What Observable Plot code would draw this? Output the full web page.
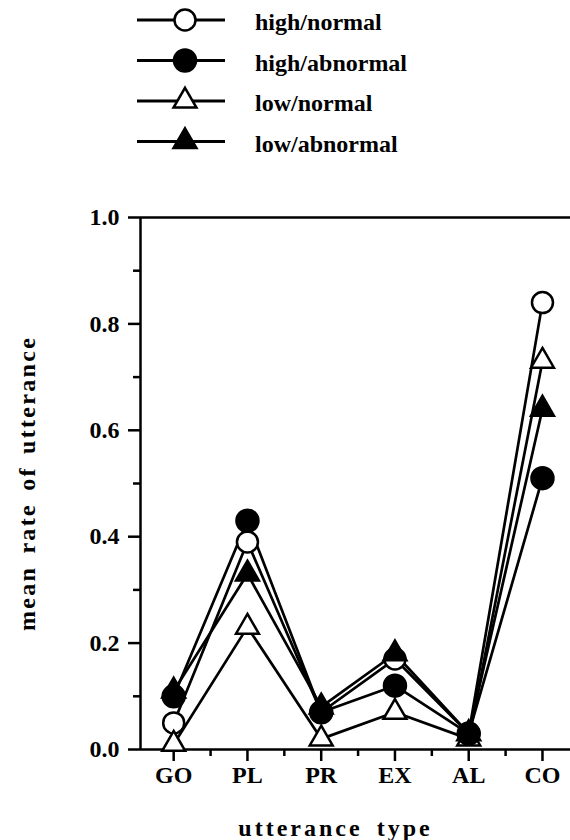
<!DOCTYPE html>
<html>
<head>
<meta charset="utf-8">
<script src="https://cdn.jsdelivr.net/npm/d3@7"></script>
<script src="https://cdn.jsdelivr.net/npm/@observablehq/plot@0.6"></script>
<style>
  html, body { margin: 0; padding: 0; background: white; }
  #legend, #chart { display: block; }
</style>
</head>
<body>
<div id="legend"></div>
<div id="chart"></div>
<script>
const categories = ["GO", "PL", "PR", "EX", "AL", "CO"];
const seriesNames = ["high/normal", "high/abnormal", "low/normal", "low/abnormal"];
const highNormal   = [0.05, 0.39, 0.07, 0.17, 0.03, 0.84];
const highAbnormal = [0.10, 0.43, 0.07, 0.12, 0.03, 0.51];
const lowNormal    = [0.01, 0.23, 0.02, 0.07, 0.02, 0.73];
const lowAbnormal  = [0.11, 0.33, 0.08, 0.18, 0.03, 0.64];
const yTicks = [0, 0.2, 0.4, 0.6, 0.8, 1.0];
const yMinorTicks = [0.1, 0.3, 0.5, 0.7, 0.9];
const xTicks = [1, 2, 3, 4, 5, 6];
const xMinorTicks = [1.5, 2.5, 3.5, 4.5, 5.5];
const xLabel = "utterance type";
const yLabel = "mean rate of utterance";

const seriesValues = [highNormal, highAbnormal, lowNormal, lowAbnormal];
const seriesStyle = [
  {symbol: "circle", fill: "white", r: 10.5},
  {symbol: "circle", fill: "black", r: 11},
  {symbol: "triangle", fill: "white", r: 8.5},
  {symbol: "triangle", fill: "black", r: 8.5}
];

const data = [];
seriesNames.forEach((s, si) => {
  seriesValues[si].forEach((v, i) => {
    data.push({series: s, cat: categories[i], idx: i + 1, value: v});
  });
});

const FONT = "'Liberation Serif', 'Times New Roman', serif";

// Legend
const lg = d3.select("#legend").append("svg")
  .attr("width", 570).attr("height", 190)
  .style("font-family", FONT).style("font-weight", "bold").style("font-size", "24px");
seriesNames.forEach((s, i) => {
  const y = 20 + i * 40.5;
  const st = seriesStyle[i];
  lg.append("line").attr("x1", 137).attr("x2", 225).attr("y1", y).attr("y2", y)
    .attr("stroke", "black").attr("stroke-width", 3);
  const sym = st.symbol === "circle" ? d3.symbolCircle : d3.symbolTriangle;
  lg.append("path")
    .attr("d", d3.symbol(sym, Math.PI * st.r * st.r)())
    .attr("transform", `translate(185,${y})`)
    .attr("fill", st.fill).attr("stroke", "black").attr("stroke-width", 2.5);
  lg.append("text").attr("x", 255).attr("y", y + 10).text(s);
});

// Chart
const dotMarks = [0, 2, 1, 3].map(si => Plot.dot(data.filter(d => d.series === seriesNames[si]), {
  x: "idx", y: "value",
  symbol: seriesStyle[si].symbol,
  r: seriesStyle[si].r,
  fill: seriesStyle[si].fill,
  stroke: "black",
  strokeWidth: 2.5
}));

const chart = Plot.plot({
  width: 570,
  height: 650,
  marginLeft: 140,
  marginRight: 0,
  marginTop: 23,
  marginBottom: 95,
  style: {fontFamily: FONT, fontSize: "24px", fontWeight: "bold", background: "white", overflow: "visible"},
  x: {type: "linear", domain: [0.55, 6.38]},
  y: {domain: [0, 1]},
  marks: [
    Plot.ruleY([1], {stroke: "black", strokeWidth: 2.5}),
    Plot.ruleY([0], {stroke: "black", strokeWidth: 2.5}),
    Plot.ruleX([0.55], {stroke: "black", strokeWidth: 2.5}),
    Plot.axisY(yTicks, {tickSize: 12, tickPadding: 9, tickFormat: d3.format(".1f"), strokeWidth: 2.5, label: null}),
    Plot.axisY(yMinorTicks, {tickSize: 7, tickFormat: () => "", strokeWidth: 2.5, label: null}),
    Plot.axisX(xTicks, {tickSize: 12, tickPadding: 4, tickFormat: i => categories[i - 1], strokeWidth: 2.5, label: null}),
    Plot.axisX(xMinorTicks, {tickSize: 7, tickFormat: () => "", strokeWidth: 2.5, label: null}),
    Plot.line(data, {x: "idx", y: "value", z: "series", stroke: "black", strokeWidth: 2.7}),
    ...dotMarks,
    Plot.text([yLabel], {frameAnchor: "left", dx: -113, rotate: -90, textAnchor: "middle", lineAnchor: "middle", fill: "black"}),
    Plot.text([xLabel], {frameAnchor: "bottom", dy: 79, dx: -20, textAnchor: "middle", lineAnchor: "middle", fill: "black"})
  ]
});
document.getElementById("chart").appendChild(chart);
d3.select(chart).selectAll("text")
  .filter(function() { return this.textContent === xLabel; })
  .attr("letter-spacing", "3px").attr("word-spacing", "5px");
d3.select(chart).selectAll("text")
  .filter(function() { return this.textContent === yLabel; })
  .attr("letter-spacing", "2.3px").attr("word-spacing", "4px");
</script>
</body>
</html>
